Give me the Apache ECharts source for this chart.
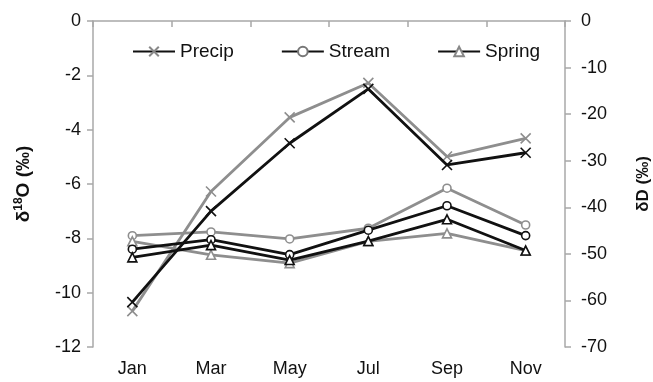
<!DOCTYPE html>
<html>
<head>
<meta charset="utf-8">
<script src="https://cdn.jsdelivr.net/npm/echarts@6/dist/echarts.min.js"></script>
<style>
  html, body { margin: 0; padding: 0; background: #fff; }
  #chart { width: 653px; height: 382px; }
</style>
</head>
<body>
<div id="chart"></div>
<script>
// Monthly sampling
const months = ['Jan', 'Mar', 'May', 'Jul', 'Sep', 'Nov'];

// δ18O (‰), left axis
const precipO = [-10.35, -7.0, -4.5, -2.5, -5.3, -4.85];
const streamO = [-8.4, -8.05, -8.6, -7.7, -6.8, -7.9];
const springO = [-8.7, -8.25, -8.8, -8.1, -7.3, -8.45];

// δD (‰), right axis
const precipD = [-62.3, -36.6, -20.7, -13.3, -29.1, -25.2];
const streamD = [-46.1, -45.3, -46.8, -44.5, -35.9, -43.8];
const springD = [-47.3, -50.2, -52.0, -47.3, -45.6, -49.3];

// Axis ticks
const leftTicks = { min: -12, max: 0, step: 2 };
const rightTicks = { min: -70, max: 0, step: 10 };

const FONT = '"Liberation Sans", Arial, sans-serif';
const AXIS_GRAY = '#a8a8a8';
const BLACK = '#111111';
const GRAY = '#8e8e8e';

const crossPath = 'path://M0,0L10,10M10,0L0,10';

function series(name, data, yIndex, lineColor, symbol, size, z) {
  return {
    name: name,
    type: 'line',
    yAxisIndex: yIndex,
    data: data,
    symbol: symbol,
    symbolSize: size,
    z: z,
    lineStyle: { color: lineColor, width: 2.8 },
    itemStyle: { color: '#ffffff', borderColor: lineColor, borderWidth: 1.6 },
    emphasis: { disabled: true },
    animation: false
  };
}

const chart = echarts.init(document.getElementById('chart'), null, { renderer: 'canvas' });

chart.setOption({
  backgroundColor: '#ffffff',
  textStyle: { fontFamily: FONT },
  grid: { left: 93, right: 88, top: 21, bottom: 35, containLabel: false, outerBoundsMode: 'none' },
  legend: {
    left: 127,
    top: 37,
    itemWidth: 42,
    itemHeight: 12,
    itemGap: 47,
    textStyle: { fontSize: 19, color: BLACK, fontFamily: FONT },
    data: [
      { name: 'Precip', itemStyle: { borderColor: '#888' } },
      { name: 'Stream', itemStyle: { borderColor: '#777' } },
      { name: 'Spring', itemStyle: { borderColor: '#888' } }
    ]
  },
  xAxis: {
    type: 'category',
    data: months,
    boundaryGap: true,
    axisLine: { lineStyle: { color: AXIS_GRAY, width: 1.5 } },
    axisTick: { show: true, length: 6, lineStyle: { color: AXIS_GRAY, width: 1.5 } },
    axisLabel: { fontSize: 18, color: BLACK, margin: 13, fontFamily: FONT },
    splitLine: { show: false }
  },
  yAxis: [
    {
      type: 'value',
      position: 'left',
      min: leftTicks.min,
      max: leftTicks.max,
      interval: leftTicks.step,
      name: '{a|δ}{s|18}{a|O (‰)}',
      nameLocation: 'middle',
      nameGap: 58,
      nameRotate: 90,
      nameTextStyle: {
        color: BLACK,
        rich: {
          a: { fontSize: 19, fontWeight: 'bold', color: BLACK, fontFamily: FONT },
          s: { fontSize: 12, fontWeight: 'bold', color: BLACK, fontFamily: FONT, verticalAlign: 'top', lineHeight: 22 }
        }
      },
      axisLine: { show: true, lineStyle: { color: AXIS_GRAY, width: 1.5 } },
      axisTick: { show: true, length: 6, lineStyle: { color: AXIS_GRAY, width: 1.5 } },
      axisLabel: { fontSize: 18, color: BLACK, margin: 12, fontFamily: FONT },
      splitLine: { show: false }
    },
    {
      type: 'value',
      position: 'right',
      min: rightTicks.min,
      max: rightTicks.max,
      interval: rightTicks.step,
      name: 'δD (‰)',
      nameLocation: 'middle',
      nameGap: 70,
      nameRotate: 90,
      nameTextStyle: { fontSize: 17, fontWeight: 'bold', color: BLACK, fontFamily: FONT },
      axisLine: { show: true, lineStyle: { color: AXIS_GRAY, width: 1.5 } },
      axisTick: { show: true, length: 6, lineStyle: { color: AXIS_GRAY, width: 1.5 } },
      axisLabel: { fontSize: 18, color: BLACK, margin: 16, fontFamily: FONT },
      splitLine: { show: false }
    }
  ],
  series: [
    series('Precip δD', precipD, 1, GRAY, crossPath, 10, 2),
    series('Stream δD', streamD, 1, GRAY, 'circle', 8, 2),
    series('Spring δD', springD, 1, GRAY, 'triangle', 9, 2),
    series('Precip', precipO, 0, BLACK, crossPath, 10, 3),
    series('Stream', streamO, 0, BLACK, 'circle', 8, 3),
    series('Spring', springO, 0, BLACK, 'triangle', 9, 3)
  ]
});
</script>
</body>
</html>
